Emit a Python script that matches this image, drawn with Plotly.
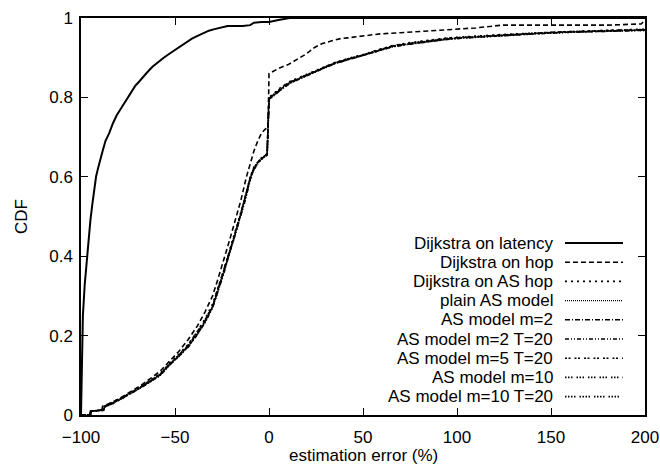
import plotly.graph_objects as go

W, H = 660, 467
ML, MR, MT, MB = 81, 15, 18, 52
FONT = "Liberation Sans, Arial, Helvetica, sans-serif"

# ---------------- data ----------------
x_ticks = [-100, -50, 0, 50, 100, 150, 200]
y_ticks = [0, 0.2, 0.4, 0.6, 0.8, 1]
y_tick_text = ["0", "0.2", "0.4", "0.6", "0.8", "1"]

lat_x = [-100, -99.6, -99, -98, -97, -96, -95, -94, -93, -92, -91, -90, -88.5, -87, -85,
         -83, -81, -79, -77, -75, -73, -71, -69, -67, -65, -62, -59, -56, -53, -50, -47,
         -44, -41, -38, -35, -32, -29, -26, -22, -18, -14, -10, -8, -4, 0, 5, 11, 200]
lat_y = [0, 0.15, 0.25, 0.33, 0.39, 0.44, 0.49, 0.53, 0.57, 0.6, 0.62, 0.64, 0.665, 0.69, 0.71,
         0.735, 0.755, 0.77, 0.785, 0.8, 0.815, 0.83, 0.84, 0.852, 0.862, 0.877, 0.889, 0.9, 0.91,
         0.92, 0.929, 0.94, 0.948, 0.955, 0.962, 0.968, 0.972, 0.976, 0.98, 0.98, 0.98, 0.982,
         0.988, 0.99, 0.99, 0.995, 1.0, 1.0]

hop_x = [-100, -95.5, -95, -89, -88.5, -83, -78, -73, -68, -63, -58, -53, -48, -43, -38, -34,
         -30, -27, -24, -21, -18, -15, -12, -10, -8, -6, -4, -2, -0.5, 0, 2, 6, 10, 14, 17, 20,
         24, 28, 33, 38, 42, 50, 59, 70, 82, 96, 110, 124, 140, 160, 180, 198, 200]
hop_y = [0, 0, 0.01, 0.012, 0.022, 0.033, 0.046, 0.06, 0.075, 0.092, 0.11, 0.135, 0.16, 0.19,
         0.225, 0.26, 0.3, 0.345, 0.39, 0.44, 0.49, 0.54, 0.6, 0.635, 0.665, 0.69, 0.71, 0.72,
         0.725, 0.86, 0.865, 0.875, 0.882, 0.893, 0.9, 0.91, 0.925, 0.935, 0.942, 0.948, 0.95,
         0.955, 0.96, 0.963, 0.967, 0.972, 0.975, 0.982, 0.982, 0.982, 0.982, 0.985, 0.995]

as_x = [-100, -95, -94.5, -88, -87.5, -83, -78, -73, -68, -63, -58, -53, -48, -43, -38, -34,
        -30, -27, -24, -21, -18, -15, -12, -10, -8, -6, -4, -3, -1, 0, 3, 7, 11, 16, 22, 28,
        35, 42, 50, 58, 66, 75, 85, 95, 105, 118, 130, 145, 160, 180, 200]

ashop_y = [0, 0, 0.01, 0.012, 0.022, 0.032, 0.045, 0.058, 0.072, 0.088, 0.104, 0.13, 0.153,
           0.178, 0.212, 0.242, 0.28, 0.322, 0.365, 0.415, 0.46, 0.51, 0.56, 0.6, 0.625, 0.638,
           0.648, 0.652, 0.658, 0.8, 0.812, 0.828, 0.84, 0.85, 0.862, 0.875, 0.888, 0.898, 0.908,
           0.92, 0.931, 0.938, 0.944, 0.95, 0.953, 0.957, 0.96, 0.963, 0.966, 0.969, 0.972]
plain_y = [0, 0, 0.01, 0.012, 0.02, 0.03, 0.043, 0.056, 0.07, 0.085, 0.1, 0.128, 0.148, 0.172,
           0.205, 0.235, 0.275, 0.315, 0.36, 0.41, 0.455, 0.505, 0.555, 0.595, 0.62, 0.635,
           0.645, 0.65, 0.655, 0.795, 0.81, 0.825, 0.838, 0.848, 0.86, 0.873, 0.887, 0.897,
           0.907, 0.918, 0.93, 0.936, 0.942, 0.948, 0.951, 0.955, 0.958, 0.962, 0.965, 0.968, 0.97]
m2_y = [0, 0, 0.01, 0.013, 0.021, 0.031, 0.044, 0.057, 0.071, 0.086, 0.102, 0.127, 0.15,
        0.175, 0.208, 0.238, 0.272, 0.318, 0.362, 0.412, 0.457, 0.507, 0.557, 0.597, 0.622,
        0.636, 0.646, 0.651, 0.656, 0.797, 0.808, 0.823, 0.836, 0.847, 0.859, 0.872, 0.886,
        0.896, 0.906, 0.917, 0.929, 0.935, 0.941, 0.947, 0.951, 0.955, 0.958, 0.962, 0.965,
        0.968, 0.97]
m2t_y = [0, 0, 0.01, 0.012, 0.02, 0.029, 0.042, 0.055, 0.069, 0.084, 0.099, 0.125, 0.147,
         0.171, 0.203, 0.233, 0.27, 0.312, 0.357, 0.407, 0.452, 0.502, 0.552, 0.593, 0.618,
         0.633, 0.644, 0.649, 0.654, 0.793, 0.806, 0.822, 0.835, 0.846, 0.858, 0.871, 0.885,
         0.895, 0.905, 0.916, 0.928, 0.934, 0.94, 0.946, 0.95, 0.954, 0.957, 0.961, 0.964,
         0.967, 0.969]
m5t_y = [0, 0, 0.01, 0.013, 0.022, 0.031, 0.044, 0.057, 0.071, 0.087, 0.103, 0.129, 0.151,
         0.176, 0.21, 0.24, 0.276, 0.32, 0.364, 0.413, 0.458, 0.508, 0.558, 0.598, 0.623,
         0.637, 0.647, 0.651, 0.657, 0.798, 0.81, 0.826, 0.839, 0.849, 0.861, 0.874, 0.887,
         0.897, 0.907, 0.919, 0.93, 0.937, 0.943, 0.949, 0.952, 0.956, 0.959, 0.963, 0.966,
         0.969, 0.971]
m10_y = [0, 0, 0.01, 0.012, 0.021, 0.03, 0.043, 0.056, 0.07, 0.085, 0.101, 0.126, 0.149,
         0.173, 0.206, 0.236, 0.273, 0.316, 0.361, 0.411, 0.456, 0.506, 0.556, 0.596, 0.621,
         0.635, 0.645, 0.65, 0.655, 0.796, 0.809, 0.824, 0.837, 0.848, 0.86, 0.873, 0.886,
         0.896, 0.906, 0.918, 0.929, 0.936, 0.942, 0.948, 0.951, 0.955, 0.958, 0.962, 0.965,
         0.968, 0.97]
m10t_y = [0, 0, 0.01, 0.012, 0.02, 0.029, 0.042, 0.055, 0.069, 0.084, 0.1, 0.125, 0.147,
          0.172, 0.204, 0.234, 0.271, 0.314, 0.359, 0.409, 0.454, 0.504, 0.554, 0.594, 0.619,
          0.634, 0.644, 0.649, 0.654, 0.794, 0.807, 0.823, 0.836, 0.847, 0.859, 0.872, 0.885,
          0.895, 0.905, 0.917, 0.928, 0.935, 0.941, 0.947, 0.95, 0.954, 0.957, 0.961, 0.964,
          0.967, 0.969]

labels = ["Dijkstra on latency", "Dijkstra on hop", "Dijkstra on AS hop", "plain AS model",
          "AS model m=2", "AS model m=2 T=20", "AS model m=5 T=20", "AS model m=10",
          "AS model m=10 T=20"]

series = [
    (lat_x, lat_y), (hop_x, hop_y), (as_x, ashop_y), (as_x, plain_y), (as_x, m2_y),
    (as_x, m2t_y), (as_x, m5t_y), (as_x, m10_y), (as_x, m10t_y),
]

# ---------------- styles ----------------
dashes = ["solid", "5px,3px", "2px,4px", "1px,1px", "5px,2px,1px,2px",
          "4px,2px,1px,2px,1px,2px", "2px,1.5px,2px,4px",
          "1.5px,1.5px,1.5px,1.5px,1.5px,4px",
          "1.5px,1.5px,1.5px,1.5px,1.5px,1.5px,1.5px,4px"]
widths = [2, 1.6, 1.6, 1.3, 1.6, 1.6, 1.6, 1.6, 1.6]
colors = ["black"] * 9

fig = go.Figure()
order = [3, 4, 5, 6, 7, 8, 2, 1, 0]
for i in order:
    xs, ys = series[i]
    fig.add_trace(go.Scatter(x=xs, y=ys, mode="lines", name=labels[i],
                             line=dict(color=colors[i], width=widths[i], dash=dashes[i]),
                             showlegend=False, hoverinfo="skip"))

pw = W - ML - MR
ph = H - MT - MB

def px_x(p):
    return (p - ML) / pw

def px_y(p):
    return (H - MB - p) / ph

txt_font = dict(family=FONT, size=17, color="black")

row_y0, row_dy = 243, 19.2
shapes = []
annotations = []
for i, lab in enumerate(labels):
    py = row_y0 + i * row_dy
    annotations.append(dict(x=px_x(555), y=px_y(py), xref="paper", yref="paper",
                            text=lab, showarrow=False, xanchor="right", yanchor="middle",
                            font=txt_font))
    shapes.append(dict(type="line", xref="paper", yref="paper",
                       x0=px_x(565), x1=px_x(623), y0=px_y(py), y1=px_y(py),
                       line=dict(color=colors[i], width=widths[i], dash=dashes[i])))

# axis titles
annotations.append(dict(x=px_x(363), y=px_y(456), xref="paper", yref="paper",
                        text="estimation error (%)", showarrow=False,
                        xanchor="center", yanchor="middle", font=txt_font))
annotations.append(dict(x=px_x(22), y=px_y(217), xref="paper", yref="paper",
                        text="CDF", showarrow=False, textangle=-90,
                        xanchor="center", yanchor="middle", font=txt_font))

axis_common = dict(showline=True, linecolor="black", linewidth=1.5, mirror="ticks",
                   ticks="inside", ticklen=7, tickwidth=1.2, tickcolor="black",
                   showgrid=False, zeroline=False, automargin=False,
                   tickfont=txt_font)

fig.update_layout(
    width=W, height=H,
    margin=dict(l=ML, r=MR, t=MT, b=MB, pad=0, autoexpand=False),
    paper_bgcolor="white", plot_bgcolor="white",
    font=txt_font,
    xaxis=dict(range=[-100, 200], tickvals=x_ticks, ticklabelstandoff=6, **axis_common),
    yaxis=dict(range=[0, 1], tickvals=y_ticks, ticktext=y_tick_text, ticklabelstandoff=3,
               **axis_common),
    shapes=shapes,
    annotations=annotations,
    showlegend=False,
)

fig.write_html("out.html")
